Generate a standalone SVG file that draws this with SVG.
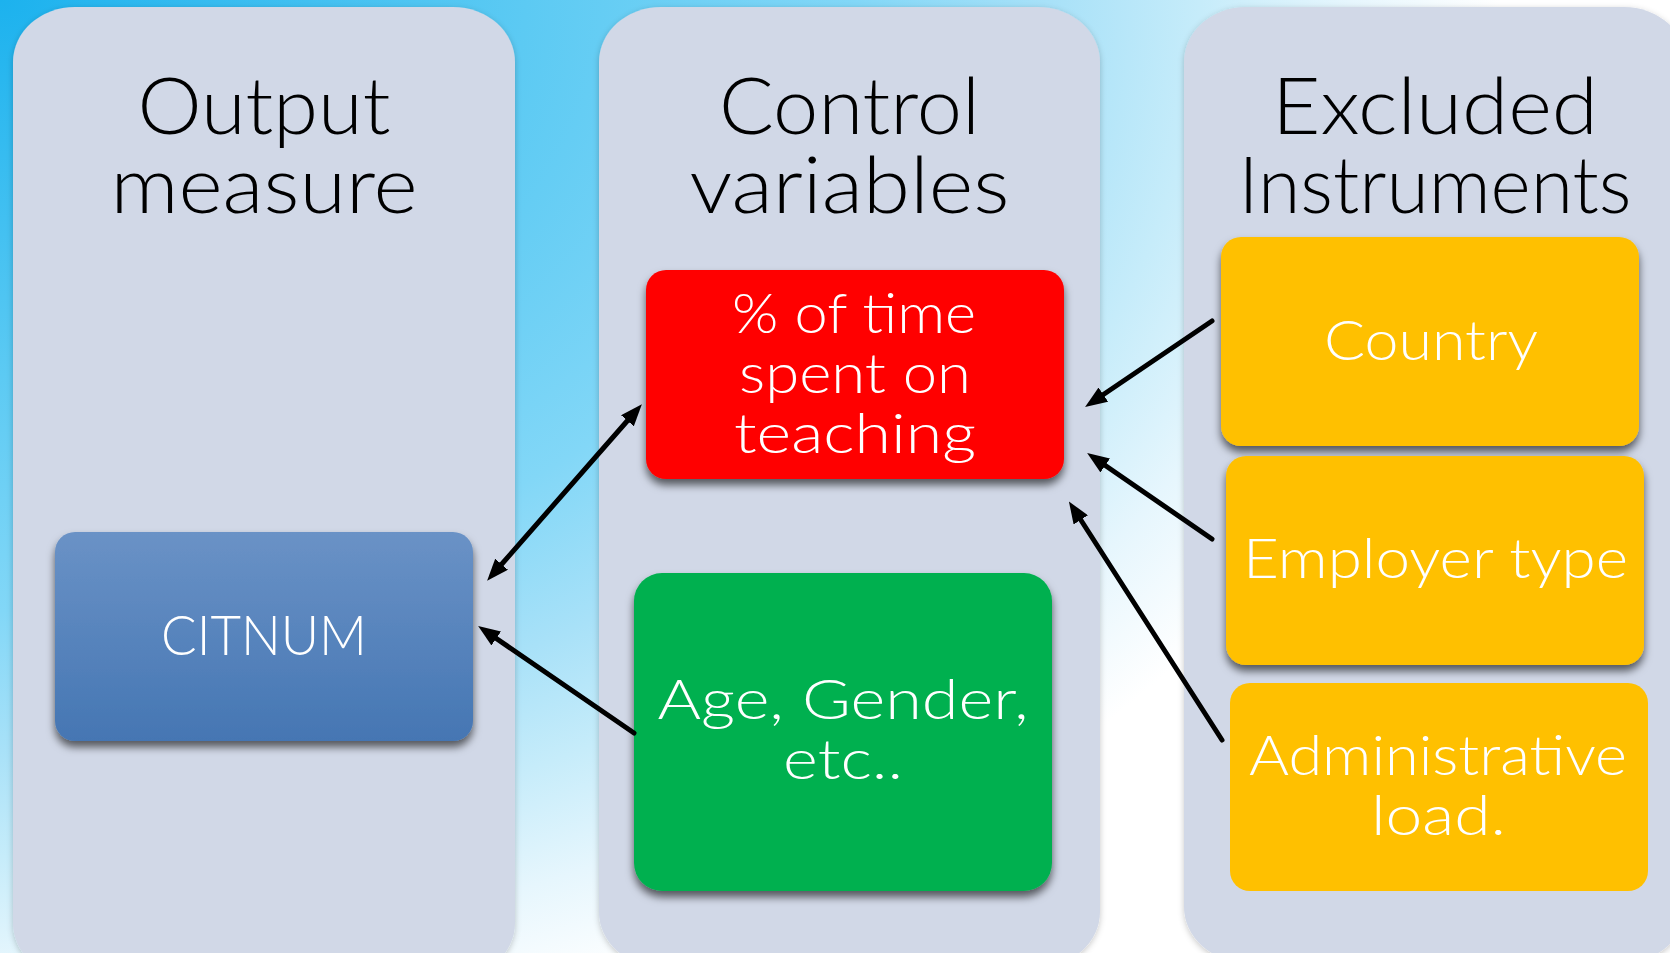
<svg xmlns="http://www.w3.org/2000/svg" width="1670" height="953" viewBox="0 0 1670 953">
  <defs>
    <radialGradient id="bg" gradientUnits="userSpaceOnUse" cx="0" cy="0" r="1500" gradientTransform="scale(1,0.714)">
      <stop offset="0" stop-color="#1cb2ee"/>
      <stop offset="0.35" stop-color="#5ccaf3"/>
      <stop offset="0.57" stop-color="#82d7f7"/>
      <stop offset="0.7" stop-color="#a8e1f8"/>
      <stop offset="0.8" stop-color="#c6ecfa"/>
      <stop offset="0.9" stop-color="#e6f6fd"/>
      <stop offset="1" stop-color="#ffffff"/>
    </radialGradient>
    <linearGradient id="blueFill" x1="0" y1="0" x2="0" y2="1">
      <stop offset="0" stop-color="#6a92c6"/>
      <stop offset="1" stop-color="#4576b3"/>
    </linearGradient>
    <filter id="panelShadow" x="-5%" y="-5%" width="110%" height="110%">
      <feDropShadow dx="0" dy="2" stdDeviation="3" flood-color="#000" flood-opacity="0.22"/>
    </filter>
    <filter id="boxShadow" x="-10%" y="-10%" width="120%" height="130%">
      <feDropShadow dx="0" dy="6" stdDeviation="4" flood-color="#000" flood-opacity="0.6"/>
    </filter>
    <marker id="arrow" viewBox="0 0 22 17" markerUnits="userSpaceOnUse" markerWidth="22" markerHeight="17" refX="7" refY="8.5" orient="auto-start-reverse">
      <path d="M0,0 L22,8.5 L0,17 z" fill="#000"/>
    </marker>
    <style>
      .panel { fill: #d1d8e7; filter: url(#panelShadow); }
      .title { font-family: Lato, "Open Sans", sans-serif; font-weight: 300; font-size: 78px; fill: #000; text-anchor: middle; }
      .label { font-family: Lato, "Open Sans", sans-serif; font-weight: 300; font-size: 56px; fill: #fff; text-anchor: middle; }
      .box { filter: url(#boxShadow); }
      .link { stroke: #000; stroke-width: 5; fill: none; stroke-linecap: round; marker-end: url(#arrow); }
    </style>
  </defs>

  <!-- backdrop -->
  <rect x="0" y="0" width="1670" height="953" fill="url(#bg)"/>

  <!-- column panels -->
  <g id="col-output">
    <rect class="panel" x="13" y="7" width="502" height="971" rx="62" ry="55"/>
    <text class="title" x="264" y="134" textLength="253" lengthAdjust="spacingAndGlyphs">Output</text>
    <text class="title" x="264" y="213" textLength="307" lengthAdjust="spacingAndGlyphs">measure</text>
  </g>
  <g id="col-control">
    <rect class="panel" x="599" y="7" width="501" height="960" rx="62" ry="55"/>
    <text class="title" x="849.5" y="134" textLength="261" lengthAdjust="spacingAndGlyphs">Control</text>
    <text class="title" x="849.5" y="213" textLength="320" lengthAdjust="spacingAndGlyphs">variables</text>
  </g>
  <g id="col-excluded">
    <rect class="panel" x="1184" y="7" width="502" height="955" rx="62" ry="55"/>
    <text class="title" x="1435" y="134" textLength="326" lengthAdjust="spacingAndGlyphs">Excluded</text>
    <text class="title" x="1435" y="213" textLength="393" lengthAdjust="spacingAndGlyphs">Instruments</text>
  </g>

  <!-- nodes -->
  <g id="node-citnum">
    <rect class="box" x="55" y="532" width="418" height="209" rx="20" fill="url(#blueFill)"/>
    <text class="label" x="264" y="655" textLength="206" lengthAdjust="spacingAndGlyphs">CITNUM</text>
  </g>
  <g id="node-teaching">
    <rect class="box" x="646" y="270" width="418" height="209" rx="20" fill="#ff0000"/>
    <text class="label" x="854" y="333" textLength="244" lengthAdjust="spacingAndGlyphs">% of time</text>
    <text class="label" x="855" y="393" textLength="232" lengthAdjust="spacingAndGlyphs">spent on</text>
    <text class="label" x="855" y="453" textLength="242" lengthAdjust="spacingAndGlyphs">teaching</text>
  </g>
  <g id="node-demographics">
    <rect class="box" x="634" y="573" width="418" height="318" rx="28" fill="#00b050"/>
    <text class="label" x="843" y="719" textLength="371" lengthAdjust="spacingAndGlyphs">Age, Gender,</text>
    <text class="label" x="843" y="779" textLength="120" lengthAdjust="spacingAndGlyphs">etc..</text>
  </g>
  <g id="node-country">
    <rect class="box" x="1221" y="237" width="418" height="209" rx="20" fill="#ffc000"/>
    <text class="label" x="1431" y="360" textLength="214" lengthAdjust="spacingAndGlyphs">Country</text>
  </g>
  <g id="node-employer">
    <rect class="box" x="1226" y="456" width="418" height="209" rx="20" fill="#ffc000"/>
    <text class="label" x="1435.5" y="578" textLength="385" lengthAdjust="spacingAndGlyphs">Employer type</text>
  </g>
  <g id="node-admin">
    <rect x="1230" y="683" width="418" height="208" rx="20" fill="#ffc000"/>
    <text class="label" x="1438" y="775" textLength="378" lengthAdjust="spacingAndGlyphs">Administrative</text>
    <text class="label" x="1438.5" y="835" textLength="135" lengthAdjust="spacingAndGlyphs">load.</text>
  </g>

  <!-- connectors -->
  <g id="connectors">
    <line class="link" x1="497" y1="569.5" x2="632" y2="415.5" style="marker-start:url(#arrow)"/>
    <line class="link" x1="634" y1="733" x2="490.5" y2="634.5"/>
    <line class="link" x1="1212" y1="321" x2="1097.5" y2="398.5"/>
    <line class="link" x1="1212" y1="539" x2="1099.5" y2="461.5"/>
    <line class="link" x1="1222" y1="740" x2="1077" y2="514"/>
  </g>
</svg>
